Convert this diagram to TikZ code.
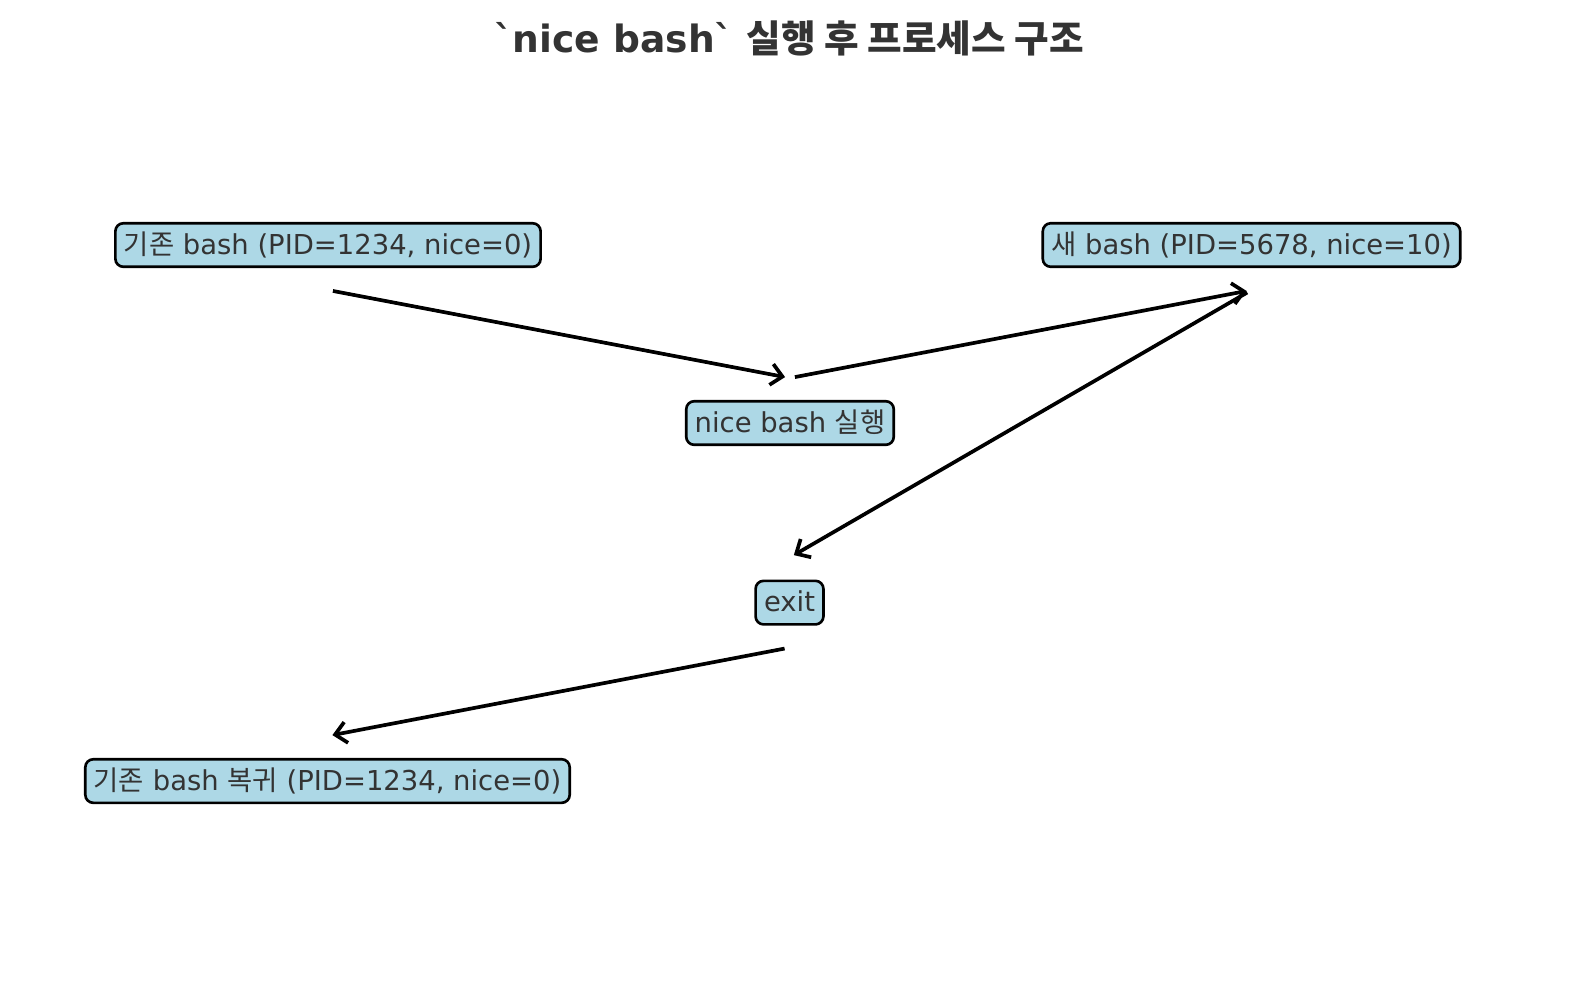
\documentclass[tikz,border=0pt]{standalone}
\usepackage{fontspec}
\newfontfamily\dejavu{DejaVu Sans}
\newfontfamily\kr{Noto Sans CJK KR}
\usetikzlibrary{arrows.meta}
\definecolor{boxblue}{HTML}{ADD8E6}
\definecolor{txtgray}{HTML}{333333}
\begin{document}
\begin{tikzpicture}[line width=1.05pt, >={Straight Barb[length=3.2pt,width=6pt]},
proc node/.style={draw, fill=boxblue, rounded corners=0.08cm, line width=0.75pt, text=txtgray, font=\dejavu\fontsize{7.8}{9.5}\selectfont, inner xsep=2.4pt, inner ysep=2.4pt, text height=6.4pt, text depth=1.2pt}]%
\useasboundingbox (0,0) rectangle (15.8,-9.8);
\node[text=txtgray, font=\dejavu\fontsize{10.7}{12}\selectfont\bfseries] (title) at (7.89,-0.38) {`nice bash` {\kr 실행 후 프로세스 구조}};
\begin{scope}
\node[proc node] (v1) at (3.28,-2.45) {{\kr 기존} bash (PID=1234, nice=0)};
\node[proc node] (v2) at (12.515,-2.45) {{\kr 새} bash (PID=5678, nice=10)};
\node[proc node] (v3) at (7.90,-4.23) {nice bash {\kr 실행}};
\node[proc node] (v4) at (7.895,-6.026) {exit};
\node[proc node] (v5) at (3.275,-7.81) {{\kr 기존} bash {\kr 복귀} (PID=1234, nice=0)};
\end{scope}
\begin{scope}[shorten <=0.05cm, shorten >=0.05cm]
\draw[->] ([yshift=-0.45cm]v1.center) -- ([yshift=0.45cm]v3.center);
\draw[->] ([yshift=0.45cm]v3.center) -- ([yshift=-0.45cm]v2.center);
\draw[->] ([yshift=-0.45cm]v2.center) -- ([yshift=0.45cm]v4.center);
\draw[->] ([yshift=-0.45cm]v4.center) -- ([yshift=0.45cm]v5.center);
\end{scope}
\end{tikzpicture}
\end{document}
